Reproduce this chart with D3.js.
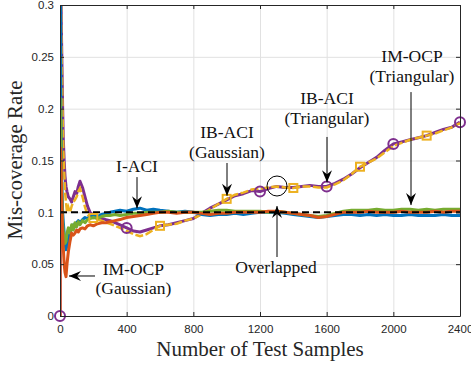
<!DOCTYPE html>
<html>
<head>
<meta charset="utf-8">
<script src="https://cdn.jsdelivr.net/npm/d3@7"></script>
<style>
  body { margin: 0; background: #fff; }
  svg { display: block; }
  .tick text { font-family: "Liberation Sans", Arial, sans-serif; font-size: 11.5px; fill: #262626; }
  .note { font-family: "Liberation Serif", "Times New Roman", serif; font-size: 17.5px; fill: #111; }
  .label { font-family: "Liberation Serif", "Times New Roman", serif; font-size: 21px; fill: #262626; }
</style>
</head>
<body>
<div id="chart"></div>
<script>
// sample index (number of test samples)
const samples = [0, 1, 2, 3, 5, 8, 12, 16, 20, 25,
  30, 36, 42, 50, 60, 70, 80, 90, 100, 110,
  120, 135, 150, 165, 180, 200, 225, 250, 275, 300,
  330, 360, 400, 440, 480, 520, 560, 600, 650, 700,
  750, 800, 850, 900, 950, 1000, 1050, 1100, 1150, 1200,
  1250, 1300, 1350, 1400, 1450, 1500, 1550, 1600, 1650, 1700,
  1750, 1800, 1850, 1900, 1950, 2000, 2050, 2100, 2150, 2200,
  2250, 2300, 2350, 2400];

// I-ACI (blue)
const iaci = [1, 1, 0.5, 0.33, 0.2, 0.15, 0.12, 0.1, 0.09, 0.08,
  0.07, 0.064, 0.068, 0.074, 0.08, 0.085, 0.088, 0.086, 0.09, 0.092,
  0.09, 0.093, 0.095, 0.094, 0.096, 0.097, 0.096, 0.098, 0.099, 0.1,
  0.101, 0.102, 0.101, 0.103, 0.104, 0.102, 0.103, 0.102, 0.101, 0.1,
  0.101, 0.1, 0.098, 0.097, 0.098, 0.098, 0.099, 0.098, 0.099, 0.1,
  0.1, 0.1, 0.099, 0.098, 0.097, 0.096, 0.095, 0.096, 0.097, 0.098,
  0.098, 0.097, 0.098, 0.097, 0.098, 0.097, 0.097, 0.098, 0.097, 0.097,
  0.097, 0.098, 0.097, 0.097];

// IM-OCP (Gaussian) (orange)
const imocpGauss = [0, 0, 0.16, 0.162, 0.15, 0.13, 0.1, 0.08, 0.065, 0.05,
  0.042, 0.038, 0.05, 0.062, 0.072, 0.08, 0.078, 0.08, 0.083, 0.081,
  0.084, 0.085, 0.084, 0.087, 0.088, 0.087, 0.089, 0.09, 0.09, 0.091,
  0.092, 0.093, 0.095, 0.096, 0.097, 0.098, 0.099, 0.1, 0.1, 0.099,
  0.1, 0.1, 0.099, 0.098, 0.099, 0.099, 0.1, 0.1, 0.1, 0.1,
  0.101, 0.101, 0.1, 0.099, 0.098, 0.097, 0.095, 0.096, 0.098, 0.1,
  0.1, 0.1, 0.101, 0.1, 0.1, 0.1, 0.101, 0.1, 0.1, 0.1,
  0.101, 0.1, 0.101, 0.101];

// IM-OCP (Triangular) (green)
const imocpTri = [0.21, 0.21, 0.2, 0.19, 0.17, 0.14, 0.11, 0.09, 0.08, 0.075,
  0.07, 0.072, 0.08, 0.085, 0.08, 0.088, 0.083, 0.09, 0.086, 0.091,
  0.088, 0.092, 0.09, 0.093, 0.094, 0.095, 0.094, 0.096, 0.097, 0.097,
  0.098, 0.097, 0.098, 0.099, 0.099, 0.1, 0.1, 0.1, 0.101, 0.1,
  0.1, 0.1, 0.1, 0.101, 0.102, 0.102, 0.101, 0.101, 0.101, 0.101,
  0.1, 0.101, 0.1, 0.099, 0.098, 0.097, 0.096, 0.097, 0.099, 0.101,
  0.102, 0.102, 0.102, 0.103, 0.102, 0.102, 0.103, 0.103, 0.102, 0.103,
  0.102, 0.103, 0.103, 0.103];

// IB-ACI (Gaussian) (yellow)
const ibaciGauss = [1, 1, 0.5, 0.4, 0.33, 0.27, 0.23, 0.19, 0.16, 0.14,
  0.12, 0.11, 0.1, 0.105, 0.1, 0.106, 0.11, 0.112, 0.115, 0.12,
  0.123, 0.115, 0.105, 0.098, 0.095, 0.0945, 0.093, 0.092, 0.09, 0.089,
  0.087, 0.085, 0.082, 0.079, 0.077, 0.079, 0.083, 0.087, 0.088, 0.089,
  0.092, 0.094, 0.098, 0.103, 0.108, 0.113, 0.117, 0.119, 0.122, 0.123,
  0.124, 0.125, 0.124, 0.1235, 0.125, 0.125, 0.124, 0.124, 0.127, 0.131,
  0.137, 0.144, 0.148, 0.152, 0.158, 0.164, 0.167, 0.17, 0.172, 0.174,
  0.176, 0.179, 0.182, 0.186];

// IB-ACI (Triangular) (purple)
const ibaciTri = [0, 1, 0.5, 0.4, 0.33, 0.28, 0.24, 0.2, 0.17, 0.15,
  0.135, 0.125, 0.12, 0.115, 0.113, 0.11, 0.115, 0.12, 0.118, 0.125,
  0.13, 0.124, 0.115, 0.106, 0.1, 0.097, 0.095, 0.094, 0.093, 0.092,
  0.09, 0.088, 0.085, 0.082, 0.081, 0.083, 0.085, 0.087, 0.088, 0.09,
  0.092, 0.094, 0.099, 0.104, 0.108, 0.112, 0.116, 0.118, 0.121, 0.12,
  0.123, 0.125, 0.124, 0.124, 0.125, 0.126, 0.125, 0.125, 0.128, 0.132,
  0.137, 0.143, 0.148, 0.153, 0.16, 0.166, 0.168, 0.17, 0.172, 0.174,
  0.177, 0.18, 0.182, 0.187];

const target = 0.1;
const circleAt = [0, 400, 1200, 1600, 2000, 2400];
const squareAt = [200, 600, 1000, 1400, 1800, 2200];

const xTicks = [0, 400, 800, 1200, 1600, 2000, 2400];
const xTickLabels = ["0", "400", "800", "1200", "1600", "2000", "2400"];
const yTicks = [0, 0.05, 0.1, 0.15, 0.2, 0.25, 0.3];
const yTickLabels = ["0", "0.05", "0.1", "0.15", "0.2", "0.25", "0.3"];

// annotations, in data coordinates
const notes = [
  { lines: ["I-ACI"], t: 462, v: 0.139 },
  { lines: ["IB-ACI", "(Gaussian)"], t: 1002, v: 0.1717 },
  { lines: ["IB-ACI", "(Triangular)"], t: 1602, v: 0.2045 },
  { lines: ["IM-OCP", "(Triangular)"], t: 2112, v: 0.245 },
  { lines: ["IM-OCP", "(Gaussian)"], t: 440, v: 0.0396 },
  { lines: ["Overlapped"], t: 1296, v: 0.0415 }
];
const arrows = [
  { t1: 462, v1: 0.134, t2: 462, v2: 0.104 },
  { t1: 1002, v1: 0.1476, t2: 1002, v2: 0.116 },
  { t1: 1602, v1: 0.1727, t2: 1602, v2: 0.129 },
  { t1: 2106, v1: 0.216, t2: 2106, v2: 0.107 },
  { t1: 210, v1: 0.0386, t2: 54, v2: 0.0386 },
  { t1: 1302, v1: 0.0569, t2: 1302, v2: 0.106 }
];
const overlapRing = { t: 1302, v: 0.1254 };

const W = 471, H = 366;
const margin = { top: 5, right: 11, bottom: 50, left: 60 };
const width = W - margin.left - margin.right,
  height = H - margin.top - margin.bottom;

const svg = d3.select("#chart").append("svg")
  .attr("width", W)
  .attr("height", H);

svg.append("rect").attr("width", W).attr("height", H).attr("fill", "#fff");

const defs = svg.append("defs");
defs.append("clipPath").attr("id", "plotclip")
  .append("rect").attr("width", width).attr("height", height);

defs.append("marker")
  .attr("id", "arrowhead")
  .attr("viewBox", "-13 -6 14 12")
  .attr("refX", 0)
  .attr("refY", 0)
  .attr("orient", "auto")
  .attr("markerUnits", "userSpaceOnUse")
  .attr("markerWidth", 14)
  .attr("markerHeight", 12)
  .append("path")
  .attr("d", "M0,0 L-12,-5 L-8,0 L-12,5 Z")
  .attr("fill", "#000");

const g = svg.append("g")
  .attr("transform", `translate(${margin.left},${margin.top})`);

const x = d3.scaleLinear().domain([0, 2400]).range([0, width]);
const y = d3.scaleLinear().domain([0, 0.3]).range([height, 0]);

// grid
g.append("g")
  .attr("transform", `translate(0,${height})`)
  .call(d3.axisBottom(x).tickValues(xTicks).tickSize(-height).tickFormat(""))
  .call(a => a.select(".domain").remove())
  .call(a => a.selectAll("line").attr("stroke", "#e1e1e1"));
g.append("g")
  .call(d3.axisLeft(y).tickValues(yTicks).tickSize(-width).tickFormat(""))
  .call(a => a.select(".domain").remove())
  .call(a => a.selectAll("line").attr("stroke", "#e1e1e1"));

// lines
const plot = g.append("g").attr("clip-path", "url(#plotclip)");
const line = d3.line()
  .x(d => x(d[0]))
  .y(d => y(d[1]));

function pairs(vals) { return samples.map((s, i) => [s, vals[i]]); }

plot.append("path").datum(pairs(ibaciTri))
  .attr("fill", "none").attr("stroke", "#7E2F8E").attr("stroke-width", 3)
  .attr("stroke-linejoin", "round").attr("d", line);
plot.append("path").datum(pairs(ibaciGauss))
  .attr("fill", "none").attr("stroke", "#EDB120").attr("stroke-width", 2.5)
  .attr("stroke-dasharray", "8,2.5").attr("d", line);

const lower = [
  { vals: iaci, color: "#0072BD" },
  { vals: imocpTri, color: "#77AC30" },
  { vals: imocpGauss, color: "#D95319" }
];
lower.forEach(s => {
  plot.append("path").datum(pairs(s.vals))
    .attr("fill", "none").attr("stroke", s.color).attr("stroke-width", 3)
    .attr("stroke-linejoin", "round").attr("d", line);
});

// target rate
plot.append("line")
  .attr("x1", x(0)).attr("x2", x(2400))
  .attr("y1", y(target)).attr("y2", y(target))
  .attr("stroke", "#000").attr("stroke-width", 2)
  .attr("stroke-dasharray", "7,4");

// markers
const valAt = (vals, t) => vals[samples.indexOf(t)];
g.selectAll(".circ").data(circleAt).enter().append("circle")
  .attr("class", "circ")
  .attr("cx", d => x(d)).attr("cy", d => y(valAt(ibaciTri, d)))
  .attr("r", 5).attr("fill", "none")
  .attr("stroke", "#7E2F8E").attr("stroke-width", 2);
g.selectAll(".sq").data(squareAt).enter().append("rect")
  .attr("class", "sq")
  .attr("x", d => x(d) - 4).attr("y", d => y(valAt(ibaciGauss, d)) - 4)
  .attr("width", 8).attr("height", 8).attr("fill", "none")
  .attr("stroke", "#EDB120").attr("stroke-width", 2);

// axes (box, inward ticks)
const axisColor = "#262626";
const styleAxis = a => {
  a.select(".domain").attr("stroke", axisColor);
  a.selectAll(".tick line").attr("stroke", axisColor);
};
g.append("g")
  .attr("transform", `translate(0,${height})`)
  .call(d3.axisBottom(x).tickValues(xTicks).tickSize(-4).tickSizeOuter(0).tickPadding(9)
    .tickFormat((d, i) => xTickLabels[i]))
  .call(styleAxis);
g.append("g")
  .call(d3.axisLeft(y).tickValues(yTicks).tickSize(-4).tickSizeOuter(0).tickPadding(6)
    .tickFormat((d, i) => yTickLabels[i]))
  .call(styleAxis);
g.append("g")
  .call(d3.axisTop(x).tickValues(xTicks).tickSize(-4).tickSizeOuter(0).tickFormat(""))
  .call(styleAxis);
g.append("g")
  .attr("transform", `translate(${width},0)`)
  .call(d3.axisRight(y).tickValues(yTicks).tickSize(-4).tickSizeOuter(0).tickFormat(""))
  .call(styleAxis);

// annotations
notes.forEach(n => {
  const t = g.append("text").attr("class", "note")
    .attr("text-anchor", "middle")
    .attr("x", x(n.t)).attr("y", y(n.v));
  n.lines.forEach((l, i) => {
    t.append("tspan").attr("x", x(n.t)).attr("dy", i === 0 ? 0 : 19.5).text(l);
  });
});
arrows.forEach(a => {
  g.append("line")
    .attr("x1", x(a.t1)).attr("y1", y(a.v1))
    .attr("x2", x(a.t2)).attr("y2", y(a.v2))
    .attr("stroke", "#000").attr("stroke-width", 1)
    .attr("marker-end", "url(#arrowhead)");
});
g.append("circle")
  .attr("cx", x(overlapRing.t)).attr("cy", y(overlapRing.v))
  .attr("r", 10).attr("fill", "none")
  .attr("stroke", "#000").attr("stroke-width", 1);

// axis labels
svg.append("text").attr("class", "label")
  .attr("text-anchor", "middle")
  .attr("x", margin.left + x(1200)).attr("y", 356)
  .text("Number of Test Samples");
svg.append("text").attr("class", "label")
  .attr("text-anchor", "middle")
  .attr("transform", "translate(22,160) rotate(-90)")
  .text("Mis-coverage Rate");
</script>
</body>
</html>
